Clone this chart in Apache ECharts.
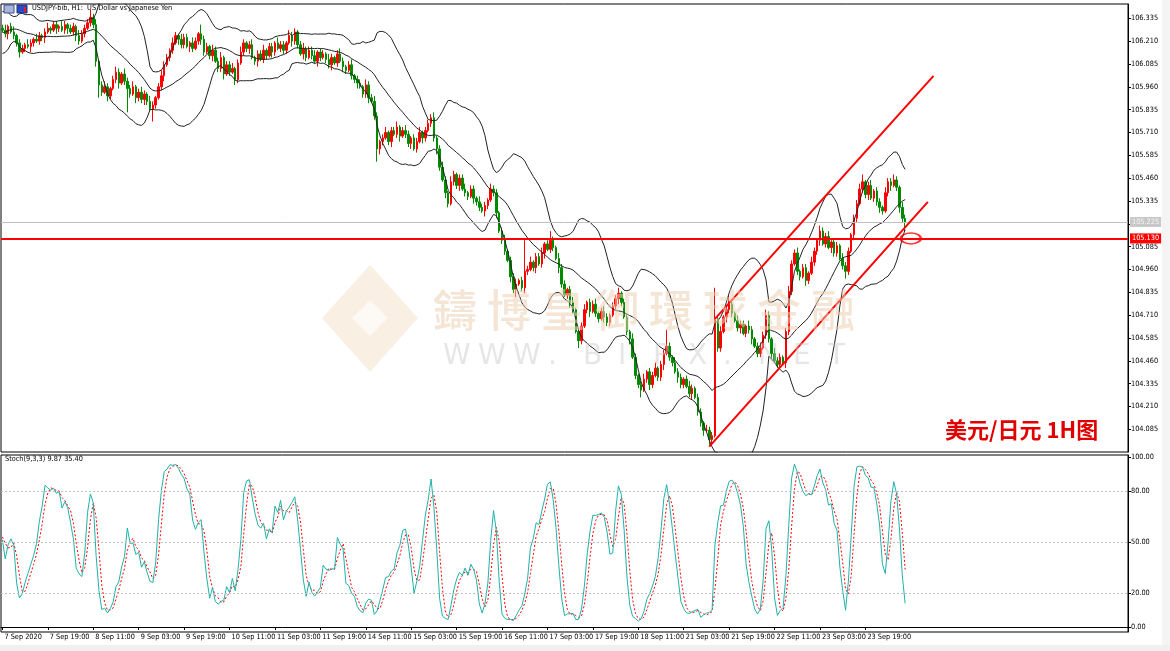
<!DOCTYPE html>
<html><head><meta charset="utf-8">
<script src="https://cdn.jsdelivr.net/npm/echarts@6/dist/echarts.min.js"></script>
<style>html,body{margin:0;padding:0;background:#fff;}#c{width:1170px;height:651px;}</style>
</head><body><div id="c"></div><script>
// ---------- data ----------
const tickLabels = ['7 Sep 2020','7 Sep 19:00','8 Sep 11:00','9 Sep 03:00','9 Sep 19:00','10 Sep 11:00','11 Sep 03:00','11 Sep 19:00','14 Sep 11:00','15 Sep 03:00','15 Sep 19:00','16 Sep 11:00','17 Sep 03:00','17 Sep 19:00','18 Sep 11:00','21 Sep 03:00','21 Sep 19:00','22 Sep 11:00','23 Sep 03:00','23 Sep 19:00'];
const priceTicks = [104.085,104.210,104.335,104.460,104.585,104.710,104.835,104.960,105.085,105.210,105.335,105.460,105.585,105.710,105.835,105.960,106.085,106.210,106.335];
const stochTicks = [0,20,50,80,100];
const stochLevels = [20,50,80];
const preCloses = [106.20,106.15,106.13,106.18,106.22,106.25,106.30,106.33,106.28,106.24,106.30,106.35,106.31,106.27,106.22,106.26,106.29,106.31,106.28];
const closes = [
 106.27,106.25,106.29,106.26,106.24, 106.20,106.15,106.17,106.19, 106.18,106.20,106.22,106.21,106.24,106.23,
 106.26,106.28,106.27,106.30,106.28,106.29, 106.27,106.30,106.28,106.26,106.29, 106.24,106.21,106.25, 106.28,106.31,106.34,
 106.30,106.10,105.97, 105.93,105.96,105.91, 105.95,106.00,106.04,105.98,106.03,105.99,
 105.95,105.92,105.96,105.90,105.93,105.89,105.92, 105.88,105.84,105.86, 105.90,105.96,106.02,106.08,
 106.12,106.16,106.20,106.24,106.22, 106.19,106.23,106.18,106.20,106.17,106.21,106.25,
 106.22,106.15,106.18,106.13,106.16, 106.10,106.06,106.12,106.03, 106.08,106.04,106.06,106.00,
 106.09,106.15,106.20,106.17,106.19, 106.12,106.10,106.14,106.11,106.16,106.13,
 106.18,106.15,106.20,106.17,106.19,106.16,106.20, 106.24,106.21,106.26,
 106.19,106.14,106.17,106.12,106.16, 106.13,106.10,106.15,106.12,106.14,
 106.11,106.08,106.12,106.09,106.14,106.10,106.07, 106.05,106.08,106.02,106.00,105.98,
 105.96,105.92,105.97,105.90,105.88, 105.80,105.62,105.66,
 105.68,105.71,105.66,105.72,105.70,105.74,105.69,105.72, 105.70,105.65,105.68,105.62,105.66,105.71,105.68,
 105.72,105.76,105.79, 105.68,105.62, 105.52,105.45,105.38,105.32, 105.44,105.48,105.42,105.46,105.40,
 105.38,105.36,105.40,105.35,105.33, 105.30,105.28,105.31, 105.34,105.40,105.38, 105.27,105.17,
 105.12,105.06,105.01, 104.92,104.85,104.88, 104.90,104.86,104.95,
 104.96,105.00,104.97,105.03,104.99, 105.05,105.10,105.07,105.12,105.08, 105.02,104.97,
 104.88,104.82,104.85,104.78, 104.74,104.62,104.57,104.65, 104.74,104.78,104.73,104.77,
 104.72,104.69,104.73,104.70,104.67,104.71, 104.76,104.80,104.83,104.78, 104.70,104.62,104.58,
 104.48,104.38,104.33,104.30, 104.36,104.40,104.33,104.38,104.42,104.37,104.44, 104.50,104.54,
 104.48,104.45,104.40,104.37,104.33,104.36, 104.32,104.28,104.31,104.26, 104.18,104.12,104.08,
 104.08,104.03,104.05, 104.69, 104.53,
 104.62,104.70,104.74,104.77,104.72, 104.68,104.64,104.66,104.61,104.65,104.63,
 104.58,104.54,104.50,104.53, 104.60,104.71,104.58, 104.50,104.46,104.44,104.48,104.45,
 104.62,104.84, 104.99,105.05, 104.95,104.92,104.97,104.90,104.94,
 105.00,105.06,105.12,105.17,105.10, 105.14,105.08,105.11,105.05,105.09, 105.02,104.98,104.95,
 105.06,105.15,105.24,105.32, 105.40,105.44,105.37,105.42,105.35,105.39,105.33,
 105.30,105.28, 105.38,105.44,105.42,105.45,105.41, 105.30,105.24,105.22
];
// wick lengths in pips (0.01) above / below the body
const wickUp = [
 2,3,1,2,3,1,2,2,1,3, 2,1,3,2,1,2,3,1,2,2, 1,3,2,1,2,2,1,3,2,2, 2,4,2,3,1,2,3,2,1,2,
 3,2,1,3,2,2,3,1,2,3, 2,1,3,2,1,2,3,2,2,1, 3,2,1,3,2,2,1,3,2,1, 5,2,2,1,3,2,2,3,1,2,
 2,3,1,2,3,2,1,2,3,1, 2,2,3,1,2,2,1,3,2,2, 1,3,2,2,1,2,3,1,2,2, 3,1,2,2,1,3,2,1,2,3,
 2,1,2,3,1,2,2,1,3,2, 2,3,2,1,2,3,1,2,2,3, 1,2,3,2,1,2,2,3,1,2, 2,2,3,1,2,3,2,1,3,2,
 1,2,2,3,1,2,2,1,3,2, 2,1,3,2,2,1,2,3,1,2, 2,3,1,2,17,2,3,1,2,2, 3,1,2,5,2,1,3,2,2,1,
 2,3,1,2,2,3,1,2,2,3, 1,2,3,2,1,2,2,3,1,2, 2,1,3,2,1,2,3,1,2,2, 3,1,2,2,9,2,1,3,2,2,
 1,2,3,2,1,2,2,1,3,2, 2,17,2,3,1,2,5,2,1,3, 2,2,1,3,2,1,2,3,2,3, 2,1,3,2,2,1,2,3,2,2,
 3,1,2,2,1,3,2,1,3,2, 2,3,1,2,2,1,3,2,2,1, 2,2,3,4,1,2,3,1,2,2, 1,3,2,2,3,2,1,3,2
];
const wickDn = [
 1,2,3,1,2,2,3,1,2,1, 3,2,1,2,2,3,1,2,1,3, 2,1,2,3,1,2,3,2,1,2, 1,2,2,3,7,2,1,3,2,1,
 2,3,1,2,13,2,1,3,2,2, 3,2,1,7,2,1,2,3,1,2, 2,1,3,2,2,1,3,2,1,2, 3,2,1,2,3,1,2,2,3,1,
 2,1,3,2,1,2,2,3,1,2, 3,1,2,2,1,3,2,1,2,2, 2,1,3,2,2,1,3,2,1,2, 1,3,2,1,2,2,3,1,2,1,
 3,2,1,2,2,3,1,2,2,3, 1,2,7,3,2,1,2,3,1,2, 3,1,2,2,3,1,2,1,3,2, 1,2,2,3,2,1,3,2,1,2,
 2,3,1,2,2,1,3,2,2,1, 3,2,1,2,3,1,2,2,1,3, 2,4,1,2,3,2,1,2,3,1, 2,3,1,2,2,1,3,2,1,2,
 3,2,1,4,2,1,2,3,1,2, 2,1,3,2,2,1,2,3,2,1, 2,3,1,2,2,4,1,2,3,2, 1,2,2,3,1,2,2,1,3,2,
 2,1,2,3,1,2,2,3,1,3, 2,1,2,2,1,3,2,2,1,2, 3,1,2,2,3,1,2,2,1,2, 2,3,1,2,2,1,3,2,2,1,
 2,2,1,3,2,1,2,2,3,1, 2,1,3,2,2,1,2,4,2,1, 3,2,1,2,2,3,1,2,2,3, 2,1,2,3,1,2,3,2,5
];
const channelUpper = [[251,104.69],[328,106.02]];
const channelLower = [[249,103.99],[326,105.33]];
const supportLevel = 105.130;
const bidPrice = 105.225;
const ellipsePoint = [320, 105.13];
const titleText = 'USDJPY-bib, H1:  US Dollar vs Japanese Yen';
const stochText = 'Stoch(9,3,3) 9.87 35.40';
const noteText = '美元/日元 1H图';
const wmChars = '鑄博皇御環球金融';
const wmLetters = 'WWW.BIPX.NET';

// ---------- build ----------
const SLOTS = 397;
const cats = Array.from({length: SLOTS}, (_, i) => String(i));
const N = closes.length;
const opens = [], highs = [], lows = [];
for (let i = 0; i < N; i++) {
  const o = i === 0 ? preCloses[preCloses.length - 1] : closes[i - 1];
  opens.push(o);
  highs.push(+(Math.max(o, closes[i]) + (wickUp[i] || 1) * 0.01).toFixed(3));
  lows.push(+(Math.min(o, closes[i]) - (wickDn[i] || 1) * 0.01).toFixed(3));
}
const candle = closes.map((c, i) => [opens[i], c, lows[i], highs[i]]);
// Bollinger Bands (20, 2)
const allC = preCloses.concat(closes);
const P = preCloses.length;
const bbMid = [], bbUp = [], bbLo = [];
for (let t = 0; t < N; t++) {
  const g = t + P; let s = 0;
  for (let j = g - 19; j <= g; j++) s += allC[j];
  const m = s / 20; let v = 0;
  for (let j = g - 19; j <= g; j++) v += (allC[j] - m) ** 2;
  const sd = Math.sqrt(v / 20);
  bbMid.push(m); bbUp.push(m + 2 * sd); bbLo.push(m - 2 * sd);
}
// Stochastic (9,3,3)
const allH = preCloses.concat(highs), allL = preCloses.concat(lows);
const LL = [], HH = [];
for (let g = 0; g < allC.length; g++) {
  let lo = Infinity, hi = -Infinity;
  for (let j = Math.max(0, g - 8); j <= g; j++) { lo = Math.min(lo, allL[j]); hi = Math.max(hi, allH[j]); }
  LL.push(lo); HH.push(hi);
}
const mainAll = [];
for (let g = 0; g < allC.length; g++) {
  let a = 0, b = 0;
  for (let j = Math.max(0, g - 2); j <= g; j++) { a += allC[j] - LL[j]; b += HH[j] - LL[j]; }
  mainAll.push(b === 0 ? 50 : a / b * 100);
}
const stMain = [], stSig = [];
for (let t = 0; t < N; t++) {
  const g = t + P;
  stMain.push(mainAll[g]);
  stSig.push((mainAll[g] + mainAll[g - 1] + mainAll[g - 2]) / 3);
}

const FONT = "'Liberation Sans Narrow','DejaVu Sans Condensed','Liberation Sans',sans-serif";
const FS = 7.3;
const chart = echarts.init(document.getElementById('c'), null, {renderer: 'canvas'});

const graphics = [
  {type:'rect', shape:{x:4,y:5,width:10,height:8}, style:{fill:'#a8b4d8', stroke:'#3c4c9c', lineWidth:1}, z:50},
  {type:'rect', shape:{x:17,y:5,width:10,height:8}, style:{fill:'#2c4cc4', stroke:'#1c2c84', lineWidth:1}, z:50},
  {type:'rect', shape:{x:24,y:7,width:2,height:5}, style:{fill:'#e02020'}, z:51},
  {type:'text', left:32, top:5, style:{text:titleText, font:FS + 'px ' + FONT, fill:'#000'}, z:50},
  {type:'text', left:5, top:456, style:{text:stochText, font:FS + 'px ' + FONT, fill:'#000'}, z:50},
  {type:'text', left:945, top:419, style:{text:noteText, font:'bold 22px "Noto Sans CJK SC",sans-serif', fill:'#e00000'}, z:60},
  // bottom strip
  {type:'rect', shape:{x:0,y:645,width:1170,height:6}, style:{fill:'#f0f0f0'}, z:40},
  {type:'rect', shape:{x:1162,y:0,width:8,height:645}, style:{fill:'#f4f4f4'}, z:40},
];
// watermark
for (let k = 0; k < wmChars.length; k++) {
  graphics.push({type:'text', x: 433 + k * 54, y: 288, style:{text: wmChars[k], font:'500 44px "Noto Sans CJK TC",sans-serif', fill:'#ebcfb3', opacity:0.55}, z:70, silent:true});
}
for (let k = 0; k < wmLetters.length; k++) {
  graphics.push({type:'text', x: 443 + k * 35, y: 343, style:{text: wmLetters[k], font:'28px "DejaVu Sans",sans-serif', fill:'#c8c8c8', opacity:0.45}, z:70, silent:true});
}
graphics.push({type:'polygon', shape:{points:[[370,265],[322,318],[370,372],[418,318]]}, style:{fill:'#f0d2b0', opacity:0.35}, z:70, silent:true});
graphics.push({type:'polygon', shape:{points:[[370,300],[352,318],[370,336],[388,318]]}, style:{fill:'#ffffff', opacity:0.6}, z:71, silent:true});

const axisFont = {fontFamily: FONT, fontSize: FS, color: '#000'};
const xInterval = (i) => i % 16 === 0 && i / 16 < tickLabels.length;
const option = {
  animation: false,
  backgroundColor: '#fff',
  grid: [
    {left: 1, top: 4, width: 1127, height: 448, show: true, borderColor: '#000', borderWidth: 1, backgroundColor: '#fff'},
    {left: 1, top: 455, width: 1127, height: 177, show: true, borderColor: '#000', borderWidth: 1, backgroundColor: '#fff'}
  ],
  xAxis: [
    {type:'category', gridIndex:0, data:cats, boundaryGap:true, axisLine:{show:false}, axisTick:{show:false}, axisLabel:{show:false}, splitLine:{show:false}},
    {type:'category', gridIndex:1, data:cats, boundaryGap:true,
     axisLine:{show:true, lineStyle:{color:'#000', width:1}},
     axisTick:{show:true, alignWithLabel:true, length:3, interval:xInterval, lineStyle:{color:'#000'}},
     axisLabel: Object.assign({show:true, hideOverlap:false, interval:xInterval, formatter:(v, i) => tickLabels[i / 16] || '', align:'left', margin:2, padding:[0,0,0,2]}, axisFont),
     splitLine:{show:false}}
  ],
  yAxis: [
    {type:'value', gridIndex:0, position:'right', min:103.961, max:106.413, scale:true,
     axisLine:{show:true, lineStyle:{color:'#000'}},
     axisTick:{show:true, length:3, customValues:priceTicks, lineStyle:{color:'#000'}},
     axisLabel: Object.assign({show:true, hideOverlap:false, customValues:priceTicks, formatter:(v) => v.toFixed(3), margin:3}, axisFont),
     splitLine:{show:false}},
    {type:'value', gridIndex:1, position:'right', min:-2.94, max:101.18,
     axisLine:{show:true, lineStyle:{color:'#000'}},
     axisTick:{show:true, length:3, customValues:stochTicks, lineStyle:{color:'#000'}},
     axisLabel: Object.assign({show:true, hideOverlap:false, customValues:stochTicks, formatter:(v) => v.toFixed(2), margin:3}, axisFont),
     splitLine:{show:false}}
  ],
  graphic: graphics,
  series: [
    {type:'candlestick', xAxisIndex:0, yAxisIndex:0, data:candle, barWidth:2,
     itemStyle:{color:'#ff0000', color0:'#008a00', borderColor:'#ff0000', borderColor0:'#008a00', borderWidth:1},
     markLine:{silent:true, symbol:['none','none'], animation:false,
       data:[
         {yAxis:bidPrice, lineStyle:{color:'#c0c0c0', width:1, type:'solid'},
          label:{show:true, position:'end', distance:2, formatter:bidPrice.toFixed(3), backgroundColor:'#c8c8c8', color:'#f4f4f4', padding:[2,2,1,2], fontFamily:FONT, fontSize:FS}},
         {yAxis:supportLevel, lineStyle:{color:'#ff0000', width:2, type:'solid'},
          label:{show:true, position:'end', distance:2, formatter:supportLevel.toFixed(3), backgroundColor:'#ff0000', color:'#fff', padding:[2,2,1,2], fontFamily:FONT, fontSize:FS}}
       ]}},
    {type:'line', xAxisIndex:0, yAxisIndex:0, data:bbMid, symbol:'none', lineStyle:{color:'#222', width:1}, z:3},
    {type:'line', xAxisIndex:0, yAxisIndex:0, data:bbUp, symbol:'none', lineStyle:{color:'#222', width:1}, z:3},
    {type:'line', xAxisIndex:0, yAxisIndex:0, data:bbLo, symbol:'none', lineStyle:{color:'#222', width:1}, z:3},
    {type:'line', xAxisIndex:0, yAxisIndex:0, data:channelUpper, symbol:'none', lineStyle:{color:'#ff0000', width:2}, z:5},
    {type:'line', xAxisIndex:0, yAxisIndex:0, data:channelLower, symbol:'none', lineStyle:{color:'#ff0000', width:2}, z:5},
    {type:'scatter', xAxisIndex:0, yAxisIndex:0, data:[ellipsePoint], symbol:'circle', symbolSize:[20,11],
     itemStyle:{color:'rgba(0,0,0,0)', borderColor:'#ff0000', borderWidth:2}, z:6},
    {type:'line', xAxisIndex:1, yAxisIndex:1, data:stMain, symbol:'none', lineStyle:{color:'#20b2aa', width:1}, z:4,
     markLine:{silent:true, symbol:['none','none'], label:{show:false},
       lineStyle:{color:'#c0c0c0', type:[2,2], width:1}, data: stochLevels.map(v => ({yAxis:v}))}},
    {type:'line', xAxisIndex:1, yAxisIndex:1, data:stSig, symbol:'none', lineStyle:{color:'#ff0000', width:1, type:[2,2]}, z:3}
  ]
};
chart.setOption(option);
</script></body></html>
